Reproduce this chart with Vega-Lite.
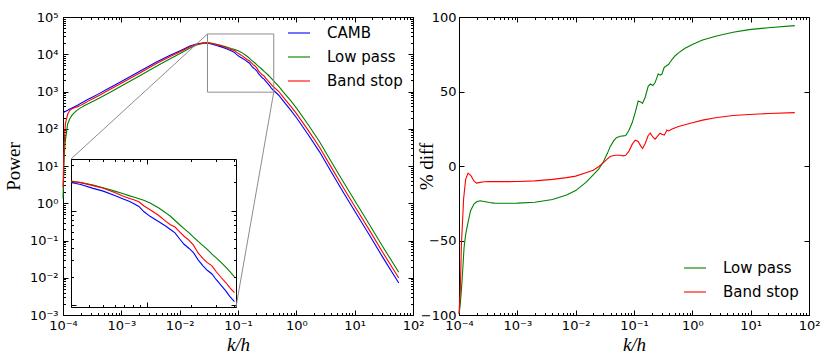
{
  "$schema": "https://vega.github.io/schema/vega-lite/v6.json",
  "background": "white",
  "padding": {"left": 3, "top": 10, "right": 5, "bottom": 0},
  "bounds": "flush",
  "spacing": 46,
  "config": {
    "view": {"stroke": "black", "strokeWidth": 1},
    "axis": {"grid": false, "domain": false, "labelFont": "DejaVu Sans", "labelFontSize": 13, "labelColor": "black", "tickColor": "black", "tickWidth": 1, "titleFont": "Liberation Serif", "titleFontSize": 19, "titleFontWeight": "normal", "titleColor": "black", "labelFlush": false, "labelOverlap": false, "labelBound": false}
  },
  "datasets": {
    "power": [
      {"k": 0.0001, "P": 269, "s": "CAMB"}, {"k": 0.000105, "P": 281, "s": "CAMB"}, {"k": 0.00011, "P": 292, "s": "CAMB"}, {"k": 0.00012, "P": 314, "s": "CAMB"}, {"k": 0.00013, "P": 337, "s": "CAMB"}, {"k": 0.000143, "P": 363, "s": "CAMB"}, {"k": 0.00016, "P": 398, "s": "CAMB"}, {"k": 0.00018, "P": 437, "s": "CAMB"}, {"k": 0.0002, "P": 479, "s": "CAMB"}, {"k": 0.00023, "P": 537, "s": "CAMB"}, {"k": 0.00027, "P": 617, "s": "CAMB"}, {"k": 0.00033, "P": 724, "s": "CAMB"}, {"k": 0.0004, "P": 851, "s": "CAMB"}, {"k": 0.0006, "P": 1202, "s": "CAMB"}, {"k": 0.001, "P": 1862, "s": "CAMB"}, {"k": 0.002, "P": 3388, "s": "CAMB"}, {"k": 0.004, "P": 6166, "s": "CAMB"}, {"k": 0.007, "P": 9550, "s": "CAMB"}, {"k": 0.01, "P": 12303, "s": "CAMB"}, {"k": 0.015, "P": 16596, "s": "CAMB"}, {"k": 0.02, "P": 19055, "s": "CAMB"}, {"k": 0.025, "P": 19953, "s": "CAMB"},
      {"k": 0.03, "P": 19815, "s": "CAMB"}, {"k": 0.035, "P": 18836, "s": "CAMB"}, {"k": 0.0426, "P": 17140, "s": "CAMB"}, {"k": 0.05, "P": 16032, "s": "CAMB"}, {"k": 0.06, "P": 14454, "s": "CAMB"}, {"k": 0.068, "P": 13335, "s": "CAMB"}, {"k": 0.076, "P": 12445, "s": "CAMB"}, {"k": 0.082, "P": 11749, "s": "CAMB"}, {"k": 0.088, "P": 11041, "s": "CAMB"}, {"k": 0.095, "P": 9772, "s": "CAMB"}, {"k": 0.105, "P": 8690, "s": "CAMB"}, {"k": 0.12, "P": 7674, "s": "CAMB"}, {"k": 0.135, "P": 6839, "s": "CAMB"}, {"k": 0.145, "P": 6310, "s": "CAMB"}, {"k": 0.156, "P": 5821, "s": "CAMB"}, {"k": 0.168, "P": 5012, "s": "CAMB"}, {"k": 0.18, "P": 4406, "s": "CAMB"}, {"k": 0.195, "P": 3981, "s": "CAMB"}, {"k": 0.209, "P": 3597, "s": "CAMB"}, {"k": 0.225, "P": 3020, "s": "CAMB"}, {"k": 0.243, "P": 2612, "s": "CAMB"}, {"k": 0.26, "P": 2344, "s": "CAMB"}, {"k": 0.28, "P": 2143, "s": "CAMB"}, {"k": 0.3, "P": 1862, "s": "CAMB"}, {"k": 0.325, "P": 1618, "s": "CAMB"}, {"k": 0.35, "P": 1413, "s": "CAMB"}, {"k": 0.37, "P": 1250, "s": "CAMB"}, {"k": 0.4, "P": 1096, "s": "CAMB"},
      {"k": 0.5, "P": 794, "s": "CAMB"}, {"k": 0.6, "P": 550, "s": "CAMB"}, {"k": 0.8, "P": 316, "s": "CAMB"}, {"k": 1.0, "P": 200, "s": "CAMB"}, {"k": 1.6, "P": 69.2, "s": "CAMB"}, {"k": 2.5, "P": 24.0, "s": "CAMB"}, {"k": 4, "P": 6.76, "s": "CAMB"}, {"k": 6.3, "P": 2.04, "s": "CAMB"}, {"k": 10, "P": 0.617, "s": "CAMB"}, {"k": 18, "P": 0.138, "s": "CAMB"}, {"k": 30, "P": 0.0363, "s": "CAMB"}, {"k": 57, "P": 0.00724, "s": "CAMB"},

      {"k": 0.0001, "P": 1.35, "s": "Low pass"}, {"k": 0.000105, "P": 19.7, "s": "Low pass"}, {"k": 0.00011, "P": 49.6, "s": "Low pass"}, {"k": 0.00012, "P": 132, "s": "Low pass"}, {"k": 0.00013, "P": 182, "s": "Low pass"}, {"k": 0.000143, "P": 232, "s": "Low pass"}, {"k": 0.00016, "P": 281, "s": "Low pass"}, {"k": 0.00018, "P": 326, "s": "Low pass"}, {"k": 0.0002, "P": 364, "s": "Low pass"}, {"k": 0.00023, "P": 412, "s": "Low pass"}, {"k": 0.00027, "P": 470, "s": "Low pass"}, {"k": 0.00033, "P": 547, "s": "Low pass"}, {"k": 0.0004, "P": 639, "s": "Low pass"}, {"k": 0.0006, "P": 902, "s": "Low pass"}, {"k": 0.001, "P": 1398, "s": "Low pass"}, {"k": 0.002, "P": 2565, "s": "Low pass"}, {"k": 0.004, "P": 4779, "s": "Low pass"}, {"k": 0.007, "P": 7688, "s": "Low pass"}, {"k": 0.01, "P": 10273, "s": "Low pass"}, {"k": 0.015, "P": 14774, "s": "Low pass"}, {"k": 0.02, "P": 17907, "s": "Low pass"}, {"k": 0.025, "P": 19551, "s": "Low pass"},
      {"k": 0.03, "P": 20464, "s": "Low pass"}, {"k": 0.035, "P": 19724, "s": "Low pass"}, {"k": 0.0426, "P": 18621, "s": "Low pass"}, {"k": 0.05, "P": 17378, "s": "Low pass"}, {"k": 0.06, "P": 16032, "s": "Low pass"}, {"k": 0.068, "P": 15136, "s": "Low pass"}, {"k": 0.076, "P": 14289, "s": "Low pass"}, {"k": 0.082, "P": 13804, "s": "Low pass"}, {"k": 0.088, "P": 13335, "s": "Low pass"}, {"k": 0.095, "P": 12823, "s": "Low pass"}, {"k": 0.105, "P": 12023, "s": "Low pass"}, {"k": 0.12, "P": 10715, "s": "Low pass"}, {"k": 0.135, "P": 9441, "s": "Low pass"}, {"k": 0.145, "P": 8710, "s": "Low pass"}, {"k": 0.156, "P": 7852, "s": "Low pass"}, {"k": 0.168, "P": 7079, "s": "Low pass"}, {"k": 0.18, "P": 6457, "s": "Low pass"}, {"k": 0.195, "P": 5821, "s": "Low pass"}, {"k": 0.209, "P": 5248, "s": "Low pass"}, {"k": 0.225, "P": 4732, "s": "Low pass"}, {"k": 0.243, "P": 4266, "s": "Low pass"}, {"k": 0.26, "P": 3890, "s": "Low pass"}, {"k": 0.28, "P": 3467, "s": "Low pass"}, {"k": 0.3, "P": 3162, "s": "Low pass"}, {"k": 0.325, "P": 2818, "s": "Low pass"}, {"k": 0.35, "P": 2512, "s": "Low pass"}, {"k": 0.37, "P": 2291, "s": "Low pass"}, {"k": 0.4, "P": 1995, "s": "Low pass"},
      {"k": 0.5, "P": 1377, "s": "Low pass"}, {"k": 0.6, "P": 968, "s": "Low pass"}, {"k": 0.8, "P": 569, "s": "Low pass"}, {"k": 1.0, "P": 362, "s": "Low pass"}, {"k": 1.6, "P": 128, "s": "Low pass"}, {"k": 2.5, "P": 44.9, "s": "Low pass"}, {"k": 4, "P": 12.8, "s": "Low pass"}, {"k": 6.3, "P": 3.89, "s": "Low pass"}, {"k": 10, "P": 1.18, "s": "Low pass"}, {"k": 18, "P": 0.266, "s": "Low pass"}, {"k": 30, "P": 0.0702, "s": "Low pass"}, {"k": 57, "P": 0.0141, "s": "Low pass"},

      {"k": 0.0001, "P": 2.7, "s": "Band stop"}, {"k": 0.000105, "P": 42, "s": "Band stop"}, {"k": 0.00011, "P": 137, "s": "Band stop"}, {"k": 0.00012, "P": 245, "s": "Band stop"}, {"k": 0.00013, "P": 307, "s": "Band stop"}, {"k": 0.000143, "P": 346, "s": "Band stop"}, {"k": 0.00016, "P": 372, "s": "Band stop"}, {"k": 0.00018, "P": 393, "s": "Band stop"}, {"k": 0.0002, "P": 424, "s": "Band stop"}, {"k": 0.00023, "P": 478, "s": "Band stop"}, {"k": 0.00027, "P": 552, "s": "Band stop"}, {"k": 0.00033, "P": 648, "s": "Band stop"}, {"k": 0.0004, "P": 762, "s": "Band stop"}, {"k": 0.0006, "P": 1076, "s": "Band stop"}, {"k": 0.001, "P": 1668, "s": "Band stop"}, {"k": 0.002, "P": 3049, "s": "Band stop"}, {"k": 0.004, "P": 5611, "s": "Band stop"}, {"k": 0.007, "P": 8805, "s": "Band stop"}, {"k": 0.01, "P": 11466, "s": "Band stop"}, {"k": 0.015, "P": 15853, "s": "Band stop"}, {"k": 0.02, "P": 18517, "s": "Band stop"}, {"k": 0.025, "P": 19890, "s": "Band stop"},
      {"k": 0.03, "P": 20277, "s": "Band stop"}, {"k": 0.035, "P": 19724, "s": "Band stop"}, {"k": 0.0426, "P": 18323, "s": "Band stop"}, {"k": 0.05, "P": 17179, "s": "Band stop"}, {"k": 0.06, "P": 15488, "s": "Band stop"}, {"k": 0.068, "P": 14256, "s": "Band stop"}, {"k": 0.076, "P": 13428, "s": "Band stop"}, {"k": 0.082, "P": 12912, "s": "Band stop"}, {"k": 0.088, "P": 12359, "s": "Band stop"}, {"k": 0.095, "P": 11246, "s": "Band stop"}, {"k": 0.105, "P": 10186, "s": "Band stop"}, {"k": 0.12, "P": 8913, "s": "Band stop"}, {"k": 0.135, "P": 7691, "s": "Band stop"}, {"k": 0.145, "P": 7096, "s": "Band stop"}, {"k": 0.156, "P": 6699, "s": "Band stop"}, {"k": 0.168, "P": 5970, "s": "Band stop"}, {"k": 0.18, "P": 5358, "s": "Band stop"}, {"k": 0.195, "P": 4842, "s": "Band stop"}, {"k": 0.209, "P": 4315, "s": "Band stop"}, {"k": 0.225, "P": 3573, "s": "Band stop"}, {"k": 0.243, "P": 3112, "s": "Band stop"}, {"k": 0.26, "P": 2825, "s": "Band stop"}, {"k": 0.28, "P": 2612, "s": "Band stop"}, {"k": 0.3, "P": 2259, "s": "Band stop"}, {"k": 0.325, "P": 1954, "s": "Band stop"}, {"k": 0.35, "P": 1730, "s": "Band stop"}, {"k": 0.37, "P": 1549, "s": "Band stop"}, {"k": 0.4, "P": 1361, "s": "Band stop"},
      {"k": 0.5, "P": 998, "s": "Band stop"}, {"k": 0.6, "P": 695, "s": "Band stop"}, {"k": 0.8, "P": 405, "s": "Band stop"}, {"k": 1.0, "P": 258, "s": "Band stop"}, {"k": 1.6, "P": 90.6, "s": "Band stop"}, {"k": 2.5, "P": 31.8, "s": "Band stop"}, {"k": 4, "P": 9.04, "s": "Band stop"}, {"k": 6.3, "P": 2.74, "s": "Band stop"}, {"k": 10, "P": 0.83, "s": "Band stop"}, {"k": 18, "P": 0.187, "s": "Band stop"}, {"k": 30, "P": 0.0492, "s": "Band stop"}, {"k": 57, "P": 0.00984, "s": "Band stop"}
    ],
    "diff": [
      {"k": 0.0001, "d": -99.5, "s": "Low pass"}, {"k": 0.000105, "d": -93, "s": "Low pass"}, {"k": 0.00011, "d": -83, "s": "Low pass"}, {"k": 0.000115, "d": -72, "s": "Low pass"}, {"k": 0.000122, "d": -55, "s": "Low pass"}, {"k": 0.00013, "d": -46, "s": "Low pass"}, {"k": 0.000139, "d": -40, "s": "Low pass"}, {"k": 0.000158, "d": -30, "s": "Low pass"}, {"k": 0.00018, "d": -25.5, "s": "Low pass"}, {"k": 0.0002, "d": -24, "s": "Low pass"}, {"k": 0.00023, "d": -23.3, "s": "Low pass"}, {"k": 0.00027, "d": -23.8, "s": "Low pass"}, {"k": 0.00033, "d": -24.5, "s": "Low pass"}, {"k": 0.0004, "d": -24.9, "s": "Low pass"}, {"k": 0.0006, "d": -25, "s": "Low pass"}, {"k": 0.001, "d": -24.9, "s": "Low pass"}, {"k": 0.002, "d": -24.3, "s": "Low pass"}, {"k": 0.004, "d": -22.5, "s": "Low pass"}, {"k": 0.007, "d": -19.5, "s": "Low pass"}, {"k": 0.01, "d": -16.5, "s": "Low pass"}, {"k": 0.015, "d": -11, "s": "Low pass"}, {"k": 0.02, "d": -6, "s": "Low pass"}, {"k": 0.025, "d": -2, "s": "Low pass"}, {"k": 0.03, "d": 3, "s": "Low pass"}, {"k": 0.035, "d": 8.5, "s": "Low pass"}, {"k": 0.039, "d": 13, "s": "Low pass"}, {"k": 0.045, "d": 17, "s": "Low pass"}, {"k": 0.05, "d": 19, "s": "Low pass"}, {"k": 0.058, "d": 20, "s": "Low pass"}, {"k": 0.065, "d": 20.2, "s": "Low pass"}, {"k": 0.072, "d": 20.5, "s": "Low pass"}, {"k": 0.082, "d": 24, "s": "Low pass"}, {"k": 0.093, "d": 29, "s": "Low pass"}, {"k": 0.105, "d": 36, "s": "Low pass"}, {"k": 0.118, "d": 43.6, "s": "Low pass"}, {"k": 0.13, "d": 43, "s": "Low pass"}, {"k": 0.14, "d": 42, "s": "Low pass"}, {"k": 0.155, "d": 46, "s": "Low pass"}, {"k": 0.175, "d": 53.5, "s": "Low pass"}, {"k": 0.19, "d": 55, "s": "Low pass"}, {"k": 0.21, "d": 54, "s": "Low pass"}, {"k": 0.23, "d": 56, "s": "Low pass"}, {"k": 0.26, "d": 61.9, "s": "Low pass"}, {"k": 0.28, "d": 61, "s": "Low pass"}, {"k": 0.3, "d": 61.5, "s": "Low pass"}, {"k": 0.33, "d": 66.3, "s": "Low pass"}, {"k": 0.35, "d": 66.8, "s": "Low pass"}, {"k": 0.365, "d": 67.5, "s": "Low pass"}, {"k": 0.39, "d": 68.1, "s": "Low pass"}, {"k": 0.42, "d": 70, "s": "Low pass"}, {"k": 0.45, "d": 71.5, "s": "Low pass"}, {"k": 0.51, "d": 74, "s": "Low pass"}, {"k": 0.58, "d": 75.9, "s": "Low pass"}, {"k": 0.75, "d": 79, "s": "Low pass"}, {"k": 1.0, "d": 81.5, "s": "Low pass"}, {"k": 1.5, "d": 84.5, "s": "Low pass"}, {"k": 2.5, "d": 87.1, "s": "Low pass"}, {"k": 5, "d": 89.8, "s": "Low pass"}, {"k": 9.4, "d": 91.5, "s": "Low pass"}, {"k": 20, "d": 92.8, "s": "Low pass"}, {"k": 57, "d": 94.2, "s": "Low pass"},
      {"k": 0.0001, "d": -99, "s": "Band stop"}, {"k": 0.000105, "d": -85, "s": "Band stop"}, {"k": 0.00011, "d": -53, "s": "Band stop"}, {"k": 0.00012, "d": -22, "s": "Band stop"}, {"k": 0.00013, "d": -9, "s": "Band stop"}, {"k": 0.000143, "d": -4.8, "s": "Band stop"}, {"k": 0.00016, "d": -6.5, "s": "Band stop"}, {"k": 0.00018, "d": -10, "s": "Band stop"}, {"k": 0.0002, "d": -11.5, "s": "Band stop"}, {"k": 0.00023, "d": -11, "s": "Band stop"}, {"k": 0.00027, "d": -10.6, "s": "Band stop"}, {"k": 0.00033, "d": -10.5, "s": "Band stop"}, {"k": 0.0004, "d": -10.5, "s": "Band stop"}, {"k": 0.0006, "d": -10.5, "s": "Band stop"}, {"k": 0.001, "d": -10.4, "s": "Band stop"}, {"k": 0.002, "d": -10, "s": "Band stop"}, {"k": 0.004, "d": -9, "s": "Band stop"}, {"k": 0.007, "d": -7.8, "s": "Band stop"}, {"k": 0.01, "d": -6.8, "s": "Band stop"}, {"k": 0.015, "d": -4.5, "s": "Band stop"}, {"k": 0.02, "d": -2.8, "s": "Band stop"}, {"k": 0.025, "d": -0.3, "s": "Band stop"}, {"k": 0.03, "d": 2.3, "s": "Band stop"}, {"k": 0.035, "d": 4.8, "s": "Band stop"}, {"k": 0.039, "d": 6.4, "s": "Band stop"}, {"k": 0.045, "d": 7, "s": "Band stop"}, {"k": 0.05, "d": 7.2, "s": "Band stop"}, {"k": 0.058, "d": 7.2, "s": "Band stop"}, {"k": 0.065, "d": 6.8, "s": "Band stop"}, {"k": 0.072, "d": 7.2, "s": "Band stop"}, {"k": 0.082, "d": 10, "s": "Band stop"}, {"k": 0.093, "d": 14.5, "s": "Band stop"}, {"k": 0.105, "d": 17.3, "s": "Band stop"}, {"k": 0.118, "d": 16.5, "s": "Band stop"}, {"k": 0.13, "d": 13.5, "s": "Band stop"}, {"k": 0.14, "d": 11.7, "s": "Band stop"}, {"k": 0.155, "d": 15, "s": "Band stop"}, {"k": 0.175, "d": 20.5, "s": "Band stop"}, {"k": 0.19, "d": 22, "s": "Band stop"}, {"k": 0.21, "d": 19.5, "s": "Band stop"}, {"k": 0.23, "d": 18, "s": "Band stop"}, {"k": 0.26, "d": 20.5, "s": "Band stop"}, {"k": 0.28, "d": 22, "s": "Band stop"}, {"k": 0.3, "d": 21.3, "s": "Band stop"}, {"k": 0.33, "d": 20.8, "s": "Band stop"}, {"k": 0.35, "d": 22.5, "s": "Band stop"}, {"k": 0.365, "d": 24.2, "s": "Band stop"}, {"k": 0.39, "d": 23.5, "s": "Band stop"}, {"k": 0.42, "d": 24.2, "s": "Band stop"}, {"k": 0.45, "d": 24.8, "s": "Band stop"}, {"k": 0.51, "d": 25.7, "s": "Band stop"}, {"k": 0.58, "d": 26.5, "s": "Band stop"}, {"k": 0.75, "d": 27.7, "s": "Band stop"}, {"k": 1.0, "d": 29, "s": "Band stop"}, {"k": 1.5, "d": 30.8, "s": "Band stop"}, {"k": 2.5, "d": 32.4, "s": "Band stop"}, {"k": 5, "d": 33.9, "s": "Band stop"}, {"k": 9.4, "d": 34.6, "s": "Band stop"}, {"k": 20, "d": 35.2, "s": "Band stop"}, {"k": 57, "d": 35.8, "s": "Band stop"}
    ],
    "zoombox": [{"k1": 0.03, "k2": 0.41, "p1": 960, "p2": 35000}],
    "connectors": [
      {"k1": 0.03, "p1": 35000, "k2": 0.0001371, "p2": 15.4},
      {"k1": 0.41, "p1": 960, "k2": 0.0924, "p2": 0.00164}
    ]
  },
  "hconcat": [
    {
      "width": 350,
      "height": 298,
      "layer": [
        {
          "layer": [
            {
              "data": {"name": "power"},
              "mark": {"type": "line", "strokeWidth": 1.1},
              "encoding": {
                "x": {"field": "k", "type": "quantitative", "scale": {"type": "log", "domain": [0.0001, 100], "nice": false},
                  "axis": {"orient": "bottom", "title": "k/h", "titleFontStyle": "italic", "tickCount": 60, "labelPadding": 9, "titlePadding": 1,
                    "labelExpr": "abs(log(datum.value)/LN10 - round(log(datum.value)/LN10)) < 0.001 ? '10' + ['⁻⁴','⁻³','⁻²','⁻¹','⁰','¹','²'][round(log(datum.value)/LN10)+4] : ''",
                    "tickSize": {"condition": {"test": "abs(log(datum.value)/LN10 - round(log(datum.value)/LN10)) < 0.001", "value": -5}, "value": -2.5}}},
                "y": {"field": "P", "type": "quantitative", "scale": {"type": "log", "domain": [0.001, 100000], "nice": false},
                  "axis": {"orient": "left", "title": "Power", "tickCount": 60, "labelPadding": 10, "titlePadding": 6,
                    "labelExpr": "abs(log(datum.value)/LN10 - round(log(datum.value)/LN10)) < 0.001 ? '10' + ['⁻³','⁻²','⁻¹','⁰','¹','²','³','⁴','⁵'][round(log(datum.value)/LN10)+3] : ''",
                    "tickSize": {"condition": {"test": "abs(log(datum.value)/LN10 - round(log(datum.value)/LN10)) < 0.001", "value": -5}, "value": -2.5}}},
                "color": {"field": "s", "type": "nominal", "scale": {"domain": ["CAMB", "Low pass", "Band stop"], "range": ["#0000ff", "#008000", "#ff0000"]},
                  "legend": {"orient": "none", "legendX": 224, "legendY": 4, "title": null, "symbolType": "stroke", "symbolSize": 484, "symbolStrokeWidth": 1.1, "labelFont": "DejaVu Sans", "labelFontSize": 15, "labelColor": "black", "labelOffset": 16, "rowPadding": 4, "padding": 0, "offset": 0}}
              }
            },
            {
              "data": {"name": "zoombox"},
              "mark": {"type": "rect", "fillOpacity": 0, "stroke": "#8c8c8c", "strokeWidth": 1},
              "encoding": {
                "x": {"field": "k1", "type": "quantitative",
                  "axis": {"orient": "top", "title": null, "labels": false, "tickCount": 60,
                    "tickSize": {"condition": {"test": "abs(log(datum.value)/LN10 - round(log(datum.value)/LN10)) < 0.001", "value": -5}, "value": -2.5}}},
                "x2": {"field": "k2"},
                "y": {"field": "p1", "type": "quantitative",
                  "axis": {"orient": "right", "title": null, "labels": false, "tickCount": 60,
                    "tickSize": {"condition": {"test": "abs(log(datum.value)/LN10 - round(log(datum.value)/LN10)) < 0.001", "value": -5}, "value": -2.5}}},
                "y2": {"field": "p2"}
              }
            },
            {
              "data": {"name": "connectors"},
              "mark": {"type": "rule", "stroke": "#8c8c8c", "strokeWidth": 1},
              "encoding": {
                "x": {"field": "k1", "type": "quantitative", "axis": null},
                "x2": {"field": "k2"},
                "y": {"field": "p1", "type": "quantitative", "axis": null},
                "y2": {"field": "p2"}
              }
            }
          ],
          "resolve": {"axis": {"x": "independent", "y": "independent"}}
        },
        {
          "layer": [
            {
              "data": {"name": "power"},
              "transform": [{"filter": {"field": "k", "range": [0.03, 0.41]}}],
              "mark": {"type": "line", "strokeWidth": 1.1},
              "encoding": {
                "x": {"field": "k", "type": "quantitative", "scale": {"type": "log", "domain": [0.03, 0.41], "range": [8, 173], "nice": false},
                  "axis": {"orient": "bottom", "title": null, "labels": false, "offset": -8, "tickCount": 15, "domain": true, "domainColor": "black",
                    "tickSize": {"condition": {"test": "abs(log(datum.value)/LN10 - round(log(datum.value)/LN10)) < 0.001", "value": -5}, "value": -2.5}}},
                "y": {"field": "P", "type": "quantitative", "scale": {"type": "log", "domain": [960, 35000], "range": [290, 142], "nice": false},
                  "axis": {"orient": "left", "title": null, "labels": false, "offset": -8, "tickCount": 15, "domain": true, "domainColor": "black",
                    "tickSize": {"condition": {"test": "abs(log(datum.value)/LN10 - round(log(datum.value)/LN10)) < 0.001", "value": -5}, "value": -2.5}}},
                "color": {"field": "s", "type": "nominal", "scale": {"domain": ["CAMB", "Low pass", "Band stop"], "range": ["#0000ff", "#008000", "#ff0000"]},
                  "legend": {"orient": "none", "legendX": 224, "legendY": 4, "title": null, "symbolType": "stroke", "symbolSize": 484, "symbolStrokeWidth": 1.1, "labelFont": "DejaVu Sans", "labelFontSize": 15, "labelColor": "black", "labelOffset": 16, "rowPadding": 4, "padding": 0, "offset": 0}}
              }
            },
            {
              "data": {"name": "zoombox"},
              "mark": {"type": "rect", "fillOpacity": 0, "strokeOpacity": 0},
              "encoding": {
                "x": {"field": "k1", "type": "quantitative",
                  "axis": {"orient": "top", "title": null, "labels": false, "offset": -142, "tickCount": 15, "domain": true, "domainColor": "black",
                    "tickSize": {"condition": {"test": "abs(log(datum.value)/LN10 - round(log(datum.value)/LN10)) < 0.001", "value": -5}, "value": -2.5}}},
                "x2": {"field": "k2"},
                "y": {"field": "p1", "type": "quantitative",
                  "axis": {"orient": "right", "title": null, "labels": false, "offset": -177, "tickCount": 15, "domain": true, "domainColor": "black",
                    "tickSize": {"condition": {"test": "abs(log(datum.value)/LN10 - round(log(datum.value)/LN10)) < 0.001", "value": -5}, "value": -2.5}}},
                "y2": {"field": "p2"}
              }
            }
          ],
          "resolve": {"axis": {"x": "independent", "y": "independent"}}
        }
      ],
      "resolve": {"scale": {"x": "independent", "y": "independent"}, "axis": {"x": "independent", "y": "independent"}}
    },
    {
      "width": 350,
      "height": 298,
      "layer": [
        {
          "data": {"name": "diff"},
          "mark": {"type": "line", "strokeWidth": 1.1},
          "encoding": {
            "x": {"field": "k", "type": "quantitative", "scale": {"type": "log", "domain": [0.0001, 100], "nice": false},
              "axis": {"orient": "bottom", "title": "k/h", "titleFontStyle": "italic", "tickCount": 60, "labelPadding": 9, "titlePadding": 1,
                "labelExpr": "abs(log(datum.value)/LN10 - round(log(datum.value)/LN10)) < 0.001 ? '10' + ['⁻⁴','⁻³','⁻²','⁻¹','⁰','¹','²'][round(log(datum.value)/LN10)+4] : ''",
                "tickSize": {"condition": {"test": "abs(log(datum.value)/LN10 - round(log(datum.value)/LN10)) < 0.001", "value": -5}, "value": -2.5}}},
            "y": {"field": "d", "type": "quantitative", "scale": {"domain": [-100, 100], "nice": false, "zero": false},
              "axis": {"orient": "left", "title": "% diff", "values": [-100, -50, 0, 50, 100], "tickSize": -5, "labelPadding": 8, "titleX": -23, "titleBaseline": "bottom"}},
            "color": {"field": "s", "type": "nominal", "scale": {"domain": ["Low pass", "Band stop"], "range": ["#008000", "#ff0000"]},
              "legend": {"orient": "none", "legendX": 224, "legendY": 239, "title": null, "symbolType": "stroke", "symbolSize": 484, "symbolStrokeWidth": 1.1, "labelFont": "DejaVu Sans", "labelFontSize": 15, "labelColor": "black", "labelOffset": 16, "rowPadding": 4, "padding": 0, "offset": 0}}
          }
        },
        {
          "data": {"name": "diff"},
          "mark": {"type": "line", "strokeOpacity": 0},
          "encoding": {
            "x": {"field": "k", "type": "quantitative",
              "axis": {"orient": "top", "title": null, "labels": false, "tickCount": 60,
                "tickSize": {"condition": {"test": "abs(log(datum.value)/LN10 - round(log(datum.value)/LN10)) < 0.001", "value": -5}, "value": -2.5}}},
            "y": {"field": "d", "type": "quantitative",
              "axis": {"orient": "right", "title": null, "labels": false, "values": [-100, -50, 0, 50, 100], "tickSize": -5}},
            "detail": {"field": "s"}
          }
        }
      ],
      "resolve": {"axis": {"x": "independent", "y": "independent"}}
    }
  ],
  "resolve": {"scale": {"color": "independent"}, "legend": {"color": "independent"}}
}
